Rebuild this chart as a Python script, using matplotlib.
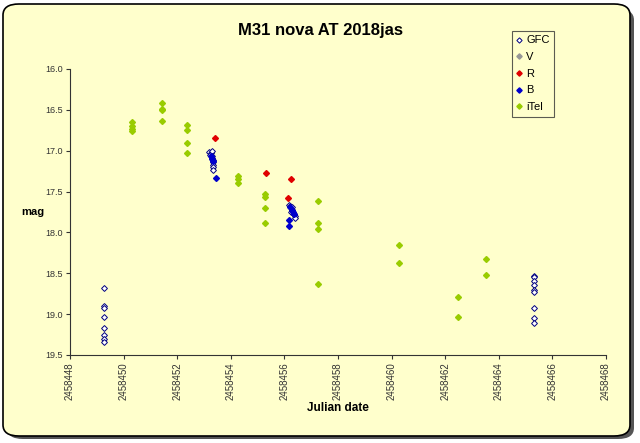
import matplotlib
matplotlib.use("Agg")
import matplotlib.pyplot as plt
from matplotlib.patches import FancyBboxPatch

plt.rcParams['font.family'] = ['Liberation Sans', 'DejaVu Sans']

gfc_x = [2458449.28]*8 + [2458453.20, 2458453.25, 2458453.22, 2458453.30, 2458453.28, 2458453.30,
         2458453.32, 2458453.33, 2458453.34, 2458453.34, 2458453.35] + \
        [2458456.18, 2458456.22, 2458456.25, 2458456.28, 2458456.30, 2458456.33, 2458456.36,
         2458456.40, 2458456.30, 2458456.38, 2458456.24] + [2458465.33]*9
gfc_y = [18.68, 18.90, 18.92, 19.03, 19.17, 19.25, 19.31, 19.34] + \
        [17.02, 17.03, 17.05, 17.00, 17.06, 17.09, 17.11, 17.14, 17.17, 17.20, 17.24] + \
        [17.66, 17.68, 17.70, 17.72, 17.74, 17.76, 17.78, 17.80, 17.69, 17.82, 17.75] + \
        [18.53, 18.54, 18.60, 18.64, 18.71, 18.73, 18.93, 19.05, 19.11]
v_x = []
v_y = []
r_x = [2458453.42, 2458455.30, 2458456.23, 2458456.15]
r_y = [16.85, 17.27, 17.35, 17.58]
b_x = [2458453.27, 2458453.30, 2458453.32, 2458453.45,
       2458456.22, 2458456.27, 2458456.32, 2458456.36, 2458456.16, 2458456.18]
b_y = [17.06, 17.10, 17.13, 17.34,
       17.69, 17.72, 17.75, 17.77, 17.85, 17.92]
itel_x = [2458450.31]*4 + [2458451.43]*4 + [2458452.35]*4 + [2458454.28]*3 + \
         [2458455.28]*4 + [2458457.27]*4 + [2458460.27]*2 + [2458462.46]*2 + [2458463.51]*2
itel_y = [16.65, 16.70, 16.73, 16.76,
          16.42, 16.49, 16.50, 16.64,
          16.69, 16.75, 16.90, 17.03,
          17.31, 17.35, 17.40,
          17.53, 17.57, 17.70, 17.89,
          17.62, 17.89, 17.96, 18.63,
          18.15, 18.37,
          18.79, 19.04,
          18.32, 18.52]

xticks = list(range(2458448, 2458469, 2))
yticks = [16.0, 16.5, 17.0, 17.5, 18.0, 18.5, 19.0, 19.5]

bg = '#FFFFCC'
fig = plt.figure(figsize=(6.4, 4.43), dpi=100)
fig.patch.set_facecolor('white')

# shadow and frame
shadow = FancyBboxPatch((7/640, 4/443), 627/640, 430/443, boxstyle="round,pad=0,rounding_size=0.025",
                        transform=fig.transFigure, facecolor='#555555', edgecolor='none', zorder=-3)
frame = FancyBboxPatch((3/640, 7/443), 627/640, 432/443, boxstyle="round,pad=0,rounding_size=0.025",
                       transform=fig.transFigure, facecolor=bg, edgecolor='black', linewidth=1.2, zorder=-2)
fig.patches.extend([shadow, frame])

ax = fig.add_axes([70/640, 1-355/443, 536/640, 286/443])
ax.set_facecolor(bg)
ax.patch.set_alpha(0)

ms = 3.0
ax.plot(gfc_x, gfc_y, linestyle='none', marker='D', markersize=ms, markerfacecolor='white',
        markeredgecolor='#000080', markeredgewidth=0.7, label='GFC', zorder=3)
ax.plot(v_x, v_y, linestyle='none', marker='D', markersize=ms, color='#969696', label='V', zorder=3)
ax.plot(r_x, r_y, linestyle='none', marker='D', markersize=ms, color='#E00000', label='R', zorder=3)
ax.plot(b_x, b_y, linestyle='none', marker='D', markersize=ms, color='#0000CC', label='B', zorder=4)
ax.plot(itel_x, itel_y, linestyle='none', marker='D', markersize=ms, color='#99CC00', label='iTel', zorder=3)

ax.set_xlim(2458448, 2458468)
ax.set_ylim(19.5, 16.0)
ax.set_xticks(xticks)
ax.set_xticklabels([str(t) for t in xticks], rotation=90, fontsize=7, color='#333333')
ax.set_yticks(yticks)
ax.set_yticklabels([f'{t:.1f}' for t in yticks], fontsize=6.5, color='#333333')
ax.tick_params(direction='out', length=3, width=0.8, colors='#333333', pad=2)
for s in ['top', 'right']:
    ax.spines[s].set_visible(False)
for s in ['left', 'bottom']:
    ax.spines[s].set_color('#333333')
    ax.spines[s].set_linewidth(0.8)

fig.text(320/640, 1-31/443, 'M31 nova AT 2018jas', ha='center', va='center', fontsize=12, fontweight='bold')
fig.text(33/640, 1-212/443, 'mag', ha='center', va='center', fontsize=8, fontweight='bold')
fig.text(338/640, 1-408/443, 'Julian date', ha='center', va='center', fontsize=8.5, fontweight='bold')

leg = ax.legend(loc='upper left', bbox_to_anchor=((512-70)/536, (355-31)/286), frameon=True, fancybox=False,
                fontsize=8, handlelength=0.5, handletextpad=0.4, borderpad=0.4, labelspacing=0.6,
                markerscale=0.9, borderaxespad=0)
leg.get_frame().set_edgecolor('#333333')
leg.get_frame().set_facecolor(bg)
leg.get_frame().set_linewidth(0.8)

fig.savefig('out.png', dpi=100, facecolor=fig.get_facecolor())
